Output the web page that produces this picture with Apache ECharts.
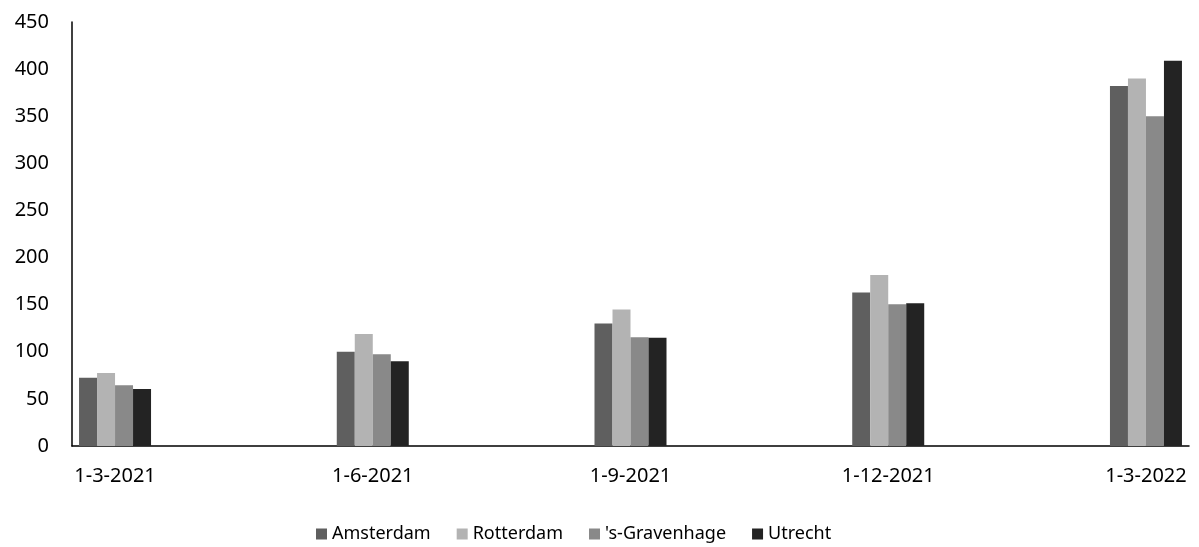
<!DOCTYPE html>
<html>
<head>
<meta charset="utf-8">
<title>Gemeenten per peildatum</title>
<script src="https://cdn.jsdelivr.net/npm/echarts@6/dist/echarts.min.js"></script>
<style>
  html, body { margin: 0; padding: 0; background: #ffffff; }
  #chart { width: 1199px; height: 547px; }
</style>
</head>
<body>
<div id="chart"></div>
<script>
// Peildata (x-as) en waarden per gemeente
const categories = ['1-3-2021', '1-6-2021', '1-9-2021', '1-12-2021', '1-3-2022'];
const amsterdam = [72.5, 100, 130, 163, 382];
const rotterdam = [77.5, 119, 145, 181.5, 390];
const denHaag = [64.5, 97.5, 115.5, 150.5, 350];
const utrecht = [60.5, 90, 115, 151.5, 409];

const seriesNames = ['Amsterdam', 'Rotterdam', "'s-Gravenhage", 'Utrecht'];
const seriesValues = [amsterdam, rotterdam, denHaag, utrecht];
const seriesColors = ['#5f5f5f', '#b3b3b3', '#898989', '#232323'];

const font = '"Noto Sans", "Open Sans", sans-serif';

const chart = echarts.init(document.getElementById('chart'), null, { renderer: 'canvas' });

// index-based x axis, with some room left and right of the outer groups
const edgePad = 0.167;

chart.setOption({
  animation: false,
  backgroundColor: '#ffffff',
  grid: { left: 72, right: 10, top: 22, bottom: 101, containLabel: false },
  legend: {
    left: 311,
    top: 520,
    itemWidth: 11,
    itemHeight: 11,
    itemGap: 26,
    icon: 'rect',
    textStyle: { fontFamily: font, fontSize: 18, color: '#000000' },
    data: seriesNames
  },
  xAxis: {
    type: 'value',
    min: -edgePad,
    max: categories.length - 1 + edgePad,
    axisLine: { show: true, onZero: false, lineStyle: { color: '#000000', width: 1.5 } },
    axisTick: { show: false },
    splitLine: { show: false },
    axisLabel: {
      customValues: categories.map((c, i) => i),
      formatter: (v) => categories[Math.round(v)] || '',
      fontFamily: font,
      fontSize: 20,
      color: '#000000',
      margin: 20
    }
  },
  yAxis: {
    type: 'value',
    min: 0,
    max: 450,
    interval: 50,
    axisLine: { show: true, onZero: false, lineStyle: { color: '#000000', width: 1.5 } },
    axisTick: { show: false },
    splitLine: { show: false },
    axisLabel: {
      fontFamily: font,
      fontSize: 20,
      color: '#000000',
      margin: 23
    }
  },
  series: seriesNames.map((name, s) => ({
    name: name,
    type: 'bar',
    barWidth: 18,
    barGap: '0%',
    itemStyle: { color: seriesColors[s] },
    data: seriesValues[s].map((v, i) => [i, v])
  }))
});
</script>
</body>
</html>
